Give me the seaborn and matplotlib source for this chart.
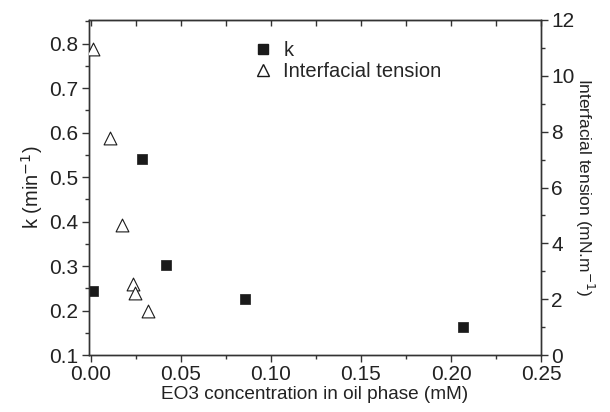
import numpy as np
import pandas as pd
import matplotlib
matplotlib.use("Agg")
import matplotlib.pyplot as plt
import seaborn as sns
from matplotlib.ticker import MultipleLocator
from matplotlib.lines import Line2D

sns.set_style("ticks")
plt.rcParams['font.family'] = ['Liberation Sans', 'DejaVu Sans']

# k (left axis)
k_conc = [0.0009, 0.0281, 0.0416, 0.0853, 0.2064]
k_vals = [0.244, 0.541, 0.302, 0.226, 0.164]

# interfacial tension (right axis)
ift_conc = [0.0009, 0.0107, 0.0175, 0.0231, 0.0246, 0.0316]
ift_vals = [10.97, 7.76, 4.67, 2.54, 2.23, 1.58]

df_k = pd.DataFrame({"conc": k_conc, "k": k_vals})
df_ift = pd.DataFrame({"conc": ift_conc, "ift": ift_vals})

fig = plt.figure(figsize=(6.1, 4.12), dpi=100)
ax1 = fig.add_axes([0.1459, 0.1383, 0.7410, 0.8132])
ax2 = ax1.twinx()

sns.scatterplot(data=df_k, x="conc", y="k", ax=ax1, marker="s", s=60,
                color="#1a1a1a", edgecolor="#1a1a1a", linewidth=0.5, zorder=3)
sns.scatterplot(data=df_ift, x="conc", y="ift", ax=ax2, marker="^", s=85,
                facecolor="white", edgecolor="#1a1a1a", linewidth=0.8, zorder=3)

ax1.set_xlim(-0.0011, 0.25)
ax1.set_ylim(0.1, 0.853)
ax2.set_ylim(0, 12)

ax1.xaxis.set_major_locator(MultipleLocator(0.05))
ax1.xaxis.set_minor_locator(MultipleLocator(0.025))
ax1.yaxis.set_major_locator(MultipleLocator(0.1))
ax1.yaxis.set_minor_locator(MultipleLocator(0.05))
ax2.yaxis.set_major_locator(MultipleLocator(2))
ax2.yaxis.set_minor_locator(MultipleLocator(1))
ax1.xaxis.set_major_formatter(matplotlib.ticker.FormatStrFormatter("%.2f"))
ax1.yaxis.set_major_formatter(matplotlib.ticker.FormatStrFormatter("%.1f"))

for ax in (ax1, ax2):
    for s in ax.spines.values():
        s.set_visible(True)
        s.set_linewidth(1.0)
        s.set_color("#333333")

ax1.tick_params(axis="both", which="major", direction="out", length=5, width=1,
                labelsize=15, colors="#333333", labelcolor="#222222", pad=2.5)
ax1.tick_params(axis="both", which="minor", direction="out", length=3, width=1, colors="#333333")
ax2.tick_params(axis="y", which="major", direction="out", length=5, width=1,
                labelsize=15, colors="#333333", labelcolor="#222222", pad=2.5)
ax2.tick_params(axis="y", which="minor", direction="out", length=3, width=1, colors="#333333")

# inward ticks on top spine
sec = ax1.secondary_xaxis("top")
sec.xaxis.set_major_locator(MultipleLocator(0.025))
sec.tick_params(direction="in", length=4, width=1, labeltop=False, colors="#333333")
ax1.tick_params(axis="x", which="both", top=False)

ax1.set_xlabel("EO3 concentration in oil phase (mM)", fontsize=13.7, color="#222222", labelpad=1)
ax1.set_ylabel("k (min$^{-1}$)", fontsize=14.5, color="#222222", labelpad=3)
ax2.set_ylabel("Interfacial tension (mN.m$^{-1}$)", fontsize=12.5, color="#222222",
               rotation=270, labelpad=15)

handles = [
    Line2D([], [], marker="s", linestyle="none", markersize=7.5,
           markerfacecolor="#1a1a1a", markeredgecolor="#1a1a1a"),
    Line2D([], [], marker="^", linestyle="none", markersize=9,
           markerfacecolor="white", markeredgecolor="#1a1a1a"),
]
ax1.legend(handles, ["k", "Interfacial tension"], loc="upper left",
           bbox_to_anchor=(0.31, 0.99), frameon=False, fontsize=14.5,
           handletextpad=0.2, labelspacing=0.1, handlelength=1.6)

fig.savefig("out.png", dpi=100)
